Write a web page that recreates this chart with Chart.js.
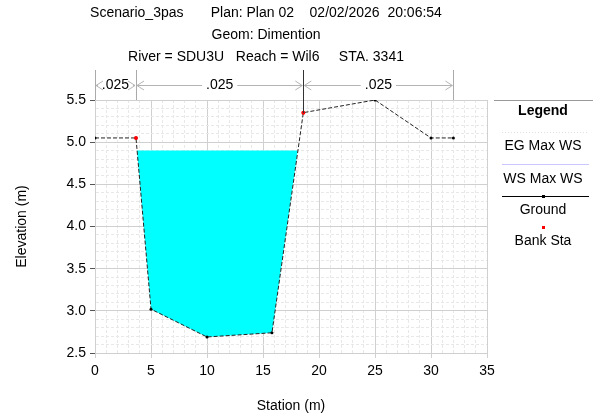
<!DOCTYPE html>
<html>
<head>
<meta charset="utf-8">
<script src="https://cdn.jsdelivr.net/npm/chart.js@4"></script>
<style>
  html, body { margin: 0; padding: 0; background: #fff; }
  #wrap { width: 603px; height: 419px; }
</style>
</head>
<body>
<div id="wrap"><canvas id="xs"></canvas></div>
<script>
// ground profile
const groundStation = [0, 3.66, 5.0, 10.0, 15.8, 18.6, 25.0, 30.0, 32.0];
const groundElev = [5.05, 5.05, 3.02, 2.69, 2.74, 5.35, 5.5, 5.05, 5.05];
// bank stations
const bankStation = [3.66, 18.6];
const bankElev = [5.05, 5.35];
// water surface (WS Max WS) and wetted outline
const wsElev = 4.9;
const waterStation = [3.75, 5.0, 10.0, 15.8, 18.1];
const waterElev = [4.9, 3.02, 2.69, 2.74, 4.9];
// manning's n
const nBreaks = [0, 3.66, 18.6, 32.0];
const nValues = [".025", ".025", ".025"];
// titles
const titleLines = [
  "Scenario_3pas       Plan: Plan 02    02/02/2026  20:06:54",
  "Geom: Dimention",
  "River = SDU3U   Reach = Wil6     STA. 3341"
];
const legendItems = ["EG Max WS", "WS Max WS", "Ground", "Bank Sta"];

const FONT = "Arial, 'Liberation Sans', sans-serif";

const pts = (xs, ys) => xs.map((x, i) => ({ x: x, y: ys[i] }));
const isMajorX = (c) => c.tick && c.tick.value % 5 == 0;
const isMajorY = (c) => c.tick && Math.round(c.tick.value * 10) % 5 == 0;

// titles, n values, legend
const extras = {
  id: "extras",
  afterDraw(chart) {
    const ctx = chart.ctx;
    const xs = chart.scales.x;
    const top = chart.chartArea.top;
    ctx.save();
    ctx.fillStyle = "#000";
    ctx.font = "14px " + FONT;
    ctx.textAlign = "center";
    ctx.textBaseline = "middle";
    titleLines.forEach((t, i) => ctx.fillText(t, 266, 13 + i * 22));

    // n value bar
    const ny = 85;
    nBreaks.forEach((b, i) => {
      const px = Math.round(xs.getPixelForValue(b)) + 0.5;
      ctx.strokeStyle = i == 2 ? "#333" : "#aaa";
      ctx.lineWidth = 1;
      ctx.beginPath();
      ctx.moveTo(px, 70);
      ctx.lineTo(px, i == 2 ? 113 : top);
      ctx.stroke();
    });
    for (let i = 0; i < nValues.length; i++) {
      const a = xs.getPixelForValue(nBreaks[i]);
      const b = xs.getPixelForValue(nBreaks[i + 1]);
      const mid = (a + b) / 2;
      const tw = ctx.measureText(nValues[i]).width;
      ctx.strokeStyle = "#b4b4b4";
      ctx.beginPath();
      if (mid - tw / 2 - 3 > a + 2) {
        ctx.moveTo(a + 1, ny + 0.5); ctx.lineTo(mid - tw / 2 - 4, ny + 0.5);
        ctx.moveTo(mid + tw / 2 + 4, ny + 0.5); ctx.lineTo(b - 1, ny + 0.5);
      }
      // arrow heads
      ctx.moveTo(a + 8, ny - 4); ctx.lineTo(a + 1, ny + 0.5); ctx.lineTo(a + 8, ny + 5);
      ctx.moveTo(b - 8, ny - 4); ctx.lineTo(b - 1, ny + 0.5); ctx.lineTo(b - 8, ny + 5);
      ctx.stroke();
      ctx.fillStyle = "#000";
      ctx.fillText(nValues[i], mid, ny);
    }

    // legend
    const lx0 = 494, lx1 = 593, lc = 543;
    ctx.strokeStyle = "#999";
    ctx.beginPath(); ctx.moveTo(lx0, 100.5); ctx.lineTo(lx1, 100.5); ctx.stroke();
    ctx.font = "bold 14px " + FONT;
    ctx.fillStyle = "#000";
    ctx.fillText("Legend", lc, 111);
    ctx.font = "14px " + FONT;
    // EG
    ctx.strokeStyle = "#ddd";
    ctx.setLineDash([1, 2]);
    ctx.beginPath(); ctx.moveTo(lx0 + 8, 132.5); ctx.lineTo(lx1 - 4, 132.5); ctx.stroke();
    ctx.setLineDash([]);
    ctx.fillText(legendItems[0], lc, 146);
    // WS
    ctx.strokeStyle = "#c8c8ff";
    ctx.beginPath(); ctx.moveTo(lx0 + 8, 164.5); ctx.lineTo(lx1 - 4, 164.5); ctx.stroke();
    ctx.fillText(legendItems[1], lc, 179);
    // Ground
    ctx.strokeStyle = "#000";
    ctx.beginPath(); ctx.moveTo(lx0 + 8, 196.5); ctx.lineTo(lx1 - 4, 196.5); ctx.stroke();
    ctx.fillRect(lc - 1, 195, 3, 3);
    ctx.fillText(legendItems[2], lc, 210);
    // Bank
    ctx.fillStyle = "#f00";
    ctx.fillRect(lc - 1, 226, 3, 3);
    ctx.fillStyle = "#000";
    ctx.fillText(legendItems[3], lc, 241);
    ctx.restore();
  }
};

new Chart(document.getElementById("xs"), {
  type: "scatter",
  data: {
    datasets: [
      {
        label: "Water",
        data: pts(waterStation, waterElev),
        showLine: true,
        borderWidth: 0,
        pointRadius: 0,
        backgroundColor: "#00ffff",
        fill: { value: wsElev },
        order: 3,
      },
      {
        label: "Ground",
        data: pts(groundStation, groundElev),
        showLine: true,
        borderColor: "#222",
        borderWidth: 1,
        borderDash: [4, 2],
        pointRadius: 1.5,
        pointBackgroundColor: "#000",
        pointBorderWidth: 0,
        fill: false,
        order: 2,
      },
      {
        label: "Bank Sta",
        data: pts(bankStation, bankElev),
        showLine: false,
        pointRadius: 2,
        pointBackgroundColor: "#f00",
        pointBorderWidth: 0,
        order: 1,
      },
    ],
  },
  plugins: [extras],
  options: {
    responsive: true,
    maintainAspectRatio: false,
    animation: false,
    layout: { padding: { left: 0, top: 100, right: 116, bottom: 0 } },
    plugins: {
      legend: { display: false },
      tooltip: { enabled: false },
    },
    scales: {
      x: {
        type: "linear",
        min: 0,
        max: 35,
        afterFit(s) { s.height = 66; },
        afterBuildTicks(s) {
          s.ticks = [];
          for (let v = 0; v <= 35; v++) s.ticks.push({ value: v });
        },
        ticks: {
          autoSkip: false,
          maxRotation: 0,
          color: "#000",
          font: { size: 14, family: FONT },
          padding: 5,
          callback: (v) => (v % 5 == 0 ? v : ""),
        },
        grid: {
          color: (c) => (isMajorX(c) ? "#d0d0d0" : "#e8e8e8"),
          tickLength: 5,
          tickColor: (c) => (isMajorX(c) ? "#d0d0d0" : "rgba(0,0,0,0)"),
        },
        border: {
          color: "#d0d0d0",
          dash: (c) => (isMajorX(c) ? [] : [3, 2]),
        },
        title: {
          display: true,
          text: "Station (m)",
          color: "#000",
          font: { size: 14, family: FONT },
          padding: { top: 12 },
        },
      },
      y: {
        type: "linear",
        min: 2.5,
        max: 5.5,
        afterFit(s) { s.width = 95; },
        afterBuildTicks(s) {
          s.ticks = [];
          for (let i = 0; i <= 30; i++) s.ticks.push({ value: +(2.5 + i * 0.1).toFixed(1) });
        },
        ticks: {
          autoSkip: false,
          color: "#000",
          font: { size: 14, family: FONT },
          padding: 4,
          callback: (v) => (Math.round(v * 10) % 5 == 0 ? v.toFixed(1) : ""),
        },
        grid: {
          color: (c) => (isMajorY(c) ? "#d0d0d0" : "#e8e8e8"),
          tickLength: 5,
          tickColor: (c) => (isMajorY(c) ? "#555" : "rgba(0,0,0,0)"),
        },
        border: {
          color: "#d0d0d0",
          dash: (c) => (isMajorY(c) ? [] : [3, 2]),
        },
        title: {
          display: true,
          text: "Elevation (m)",
          color: "#000",
          font: { size: 14, family: FONT },
          padding: { top: 14, bottom: 0 },
        },
      },
    },
  },
});
</script>
</body>
</html>
